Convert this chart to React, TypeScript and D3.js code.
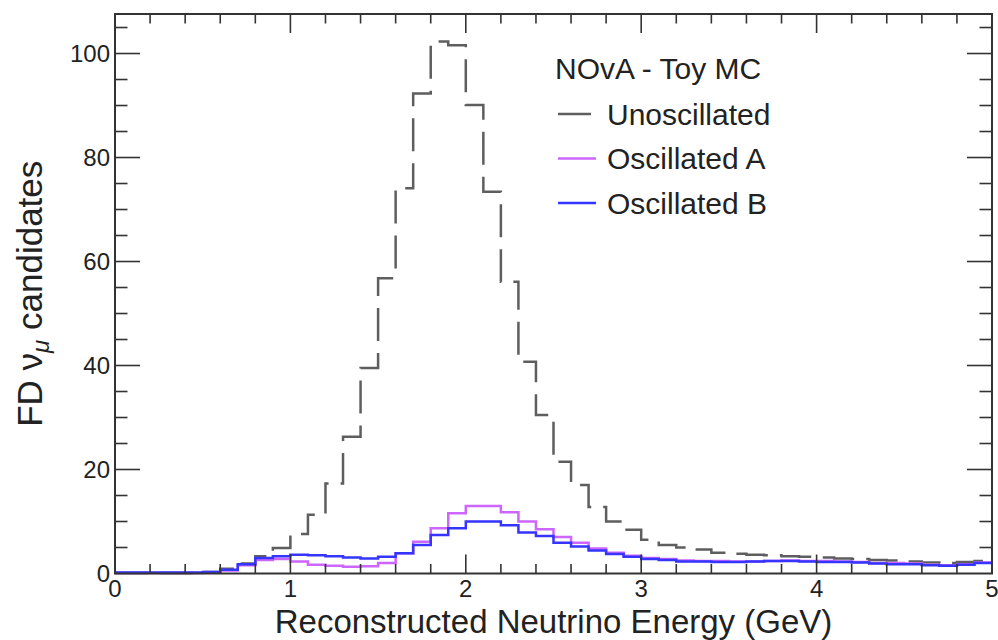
import React, { useRef, useEffect } from "react";
import * as d3 from "d3";

// bin contents, 0.1 GeV bins from 0 to 5 GeV
const binWidth = 0.1;
const unoscillated = [
  0.1, 0.1, 0.1, 0.1, 0.1, 0.3, 0.9, 1.9, 3.3, 4.9,
  7.6, 11.3, 17.3, 26.3, 39.5, 56.8, 74.1, 92.3, 102.3, 101.6,
  90.1, 73.4, 56.1, 40.7, 30.5, 21.5, 17.0, 12.8, 10.0, 8.4,
  6.5, 5.5, 5.0, 4.6, 4.0, 3.8, 3.6, 3.5, 3.3, 3.2,
  3.1, 2.9, 2.8, 2.6, 2.5, 2.3, 2.1, 2.0, 2.2, 2.4,
];
const oscillatedA = [
  0.1, 0.1, 0.1, 0.1, 0.1, 0.2, 0.6, 1.6, 2.6, 2.8,
  2.3, 1.7, 1.5, 1.3, 1.4, 2.0, 3.9, 6.1, 8.7, 11.6,
  13.0, 13.0, 11.8, 10.0, 8.5, 7.0, 5.9, 4.8, 4.0, 3.4,
  3.0, 2.8, 2.5, 2.4, 2.4, 2.3, 2.3, 2.4, 2.5, 2.4,
  2.4, 2.3, 2.2, 2.0, 2.0, 1.9, 1.7, 1.6, 1.8, 2.1,
];
const oscillatedB = [
  0.2, 0.2, 0.2, 0.2, 0.2, 0.3, 0.7, 1.8, 3.0, 3.3,
  3.6, 3.5, 3.3, 3.1, 2.9, 3.2, 3.9, 5.5, 7.4, 8.7,
  10.0, 10.0, 9.3, 7.9, 7.2, 5.9, 5.2, 4.4, 3.75, 3.2,
  2.8, 2.6, 2.3, 2.3, 2.2, 2.2, 2.3, 2.4, 2.4, 2.3,
  2.2, 2.2, 2.1, 1.9, 1.8, 1.8, 1.6, 1.5, 1.7, 2.0,
];

const xTicks = [0, 1, 2, 3, 4, 5];
const yTicks = [0, 20, 40, 60, 80, 100];

const series = [
  { name: "Unoscillated", values: unoscillated, color: "#5e5e5e", dash: "33,12" },
  { name: "Oscillated A", values: oscillatedA, color: "#cc66ff", dash: null },
  { name: "Oscillated B", values: oscillatedB, color: "#3535ff", dash: null },
];

const FONT = "'Liberation Sans', Arial, Helvetica, sans-serif";

export default function App() {
  const ref = useRef<SVGSVGElement>(null);

  useEffect(() => {
    const svg = d3.select(ref.current);
    svg.selectAll("*").remove();

    const frame = { left: 115, right: 992, top: 14, bottom: 573.5 };

    const x = d3.scaleLinear().domain([0, 5]).range([frame.left, frame.right]);
    const y = d3.scaleLinear().domain([0, 107.6]).range([frame.bottom, frame.top]);

    // histograms as step outlines
    const line = d3
      .line<[number, number]>()
      .x((d) => x(d[0]))
      .y((d) => y(d[1]))
      .curve(d3.curveStepAfter);

    series.forEach((s) => {
      const pts: [number, number][] = s.values.map((v, i) => [i * binWidth, v]);
      pts.push([s.values.length * binWidth, s.values[s.values.length - 1]]);
      svg
        .append("path")
        .attr("d", line(pts))
        .attr("fill", "none")
        .attr("stroke", s.color)
        .attr("stroke-width", 2.5)
        .attr("stroke-dasharray", s.dash);
    });

    // frame
    svg
      .append("rect")
      .attr("x", frame.left)
      .attr("y", frame.top)
      .attr("width", frame.right - frame.left)
      .attr("height", frame.bottom - frame.top)
      .attr("fill", "none")
      .attr("stroke", "#333")
      .attr("stroke-width", 2);

    const ticks = svg.append("g").attr("stroke", "#333").attr("stroke-width", 1.6);

    // x ticks (bottom and top), minor every 0.2
    d3.range(1, 25).forEach((i) => {
      const len = i % 5 === 0 ? 19 : 9.5;
      const xx = x(i * 0.2);
      ticks.append("line").attr("x1", xx).attr("x2", xx).attr("y1", frame.bottom).attr("y2", frame.bottom - len);
      ticks.append("line").attr("x1", xx).attr("x2", xx).attr("y1", frame.top).attr("y2", frame.top + len);
    });

    // y ticks (left and right), minor every 5
    d3.range(1, 22).forEach((i) => {
      const len = i % 4 === 0 ? 25 : 12.5;
      const yy = y(i * 5);
      ticks.append("line").attr("x1", frame.left).attr("x2", frame.left + len).attr("y1", yy).attr("y2", yy);
      ticks.append("line").attr("x1", frame.right).attr("x2", frame.right - len).attr("y1", yy).attr("y2", yy);
    });

    const label = svg.append("g").attr("fill", "#222").style("font-family", FONT);

    label
      .selectAll(".xt")
      .data(xTicks)
      .join("text")
      .attr("x", (d) => x(d))
      .attr("y", 597)
      .attr("text-anchor", "middle")
      .style("font-size", "24px")
      .text((d) => d);

    label
      .selectAll(".yt")
      .data(yTicks)
      .join("text")
      .attr("x", 110)
      .attr("y", (d) => y(d))
      .attr("dy", "0.36em")
      .attr("text-anchor", "end")
      .style("font-size", "24px")
      .text((d) => d);

    // axis titles
    label
      .append("text")
      .attr("x", (frame.left + frame.right) / 2)
      .attr("y", 633)
      .attr("text-anchor", "middle")
      .style("font-size", "33px")
      .text("Reconstructed Neutrino Energy (GeV)");

    const yt = label
      .append("text")
      .attr("transform", `translate(42, ${(frame.top + frame.bottom) / 2}) rotate(-90)`)
      .attr("text-anchor", "middle")
      .style("font-size", "35px");
    yt.append("tspan").text("FD \u03bd");
    yt.append("tspan").attr("dy", 7).style("font-size", "24px").style("font-style", "italic").text("\u03bc");
    yt.append("tspan").attr("dy", -7).text(" candidates");

    // legend
    const leg = svg.append("g").style("font-family", FONT).attr("fill", "#222");
    leg.append("text").attr("x", 555).attr("y", 79).style("font-size", "30px").text("NOvA - Toy MC");
    series.forEach((s, i) => {
      const yy = 114 + i * 44.5;
      leg
        .append("line")
        .attr("x1", 558)
        .attr("x2", 596)
        .attr("y1", yy)
        .attr("y2", yy)
        .attr("stroke", s.color)
        .attr("stroke-width", 2.5)
        .attr("stroke-dasharray", s.dash);
      leg
        .append("text")
        .attr("x", 607)
        .attr("y", yy + 10.5)
        .style("font-size", "30px")
        .text(s.name);
    });
  }, []);

  return (
    <svg
      ref={ref}
      width={998}
      height={640}
      style={{ position: "absolute", left: 0, top: 0, background: "#fff" }}
    ></svg>
  );
}
